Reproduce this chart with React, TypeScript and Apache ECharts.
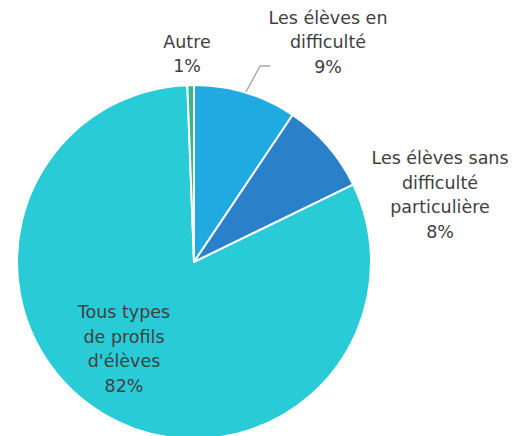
import React, { useEffect, useRef } from "react";
import * as echarts from "echarts";

const categories = [
  "Les élèves en\ndifficulté",
  "Les élèves sans\ndifficulté\nparticulière",
  "Tous types\nde profils\nd'élèves",
  "Autre",
];
const values = [9.4, 8.4, 81.6, 0.6];
const colors = ["#1FAAE2", "#2A80C9", "#29CBD6", "#3BB58D"];

const labelPositions = [
  { x: 328, y: 42 },
  { x: 440, y: 195 },
  { x: 124, y: 349 },
  { x: 187, y: 54 },
];

export default function App() {
  const ref = useRef<HTMLDivElement>(null);
  useEffect(() => {
    if (!ref.current) return;
    const chart = echarts.init(ref.current, undefined, { renderer: "svg" });
    chart.setOption({
      animation: false,
      backgroundColor: "#ffffff",
      series: [
        {
          type: "pie",
          center: [194, 262],
          radius: [0, 177],
          startAngle: 90,
          clockwise: true,
          avoidLabelOverlap: false,
          itemStyle: { borderColor: "#ffffff", borderWidth: 2 },
          label: {
            show: true,
            position: "outside",
            color: "#404040",
            fontFamily: "DejaVu Sans",
            fontSize: 17.5,
            lineHeight: 24.5,
            align: "center",
            formatter: (p: any) => `${p.name}\n${Math.round(p.percent)}%`,
          },
          labelLine: {
            show: true,
            lineStyle: { color: "#A6A6A6", width: 1.3 },
          },
          labelLayout: (params: any) => {
            const pos = labelPositions[params.dataIndex];
            const res: any = {
              x: pos.x,
              y: pos.y,
              align: "center",
              verticalAlign: "middle",
            };
            if (params.dataIndex === 0) {
              const pts = params.labelLinePoints;
              const start = pts ? pts[0] : [245.5, 92.7];
              res.labelLinePoints = [start, [260, 66], [270, 66]];
            }
            return res;
          },
          data: categories.map((name, i) => ({
            name,
            value: values[i],
            itemStyle: { color: colors[i] },
            labelLine: { show: i === 0 },
          })),
        },
      ],
    });
    return () => chart.dispose();
  }, []);
  return (
    <div
      ref={ref}
      style={{ position: "absolute", left: 0, top: 0, width: 515, height: 436 }}
    />
  );
}
